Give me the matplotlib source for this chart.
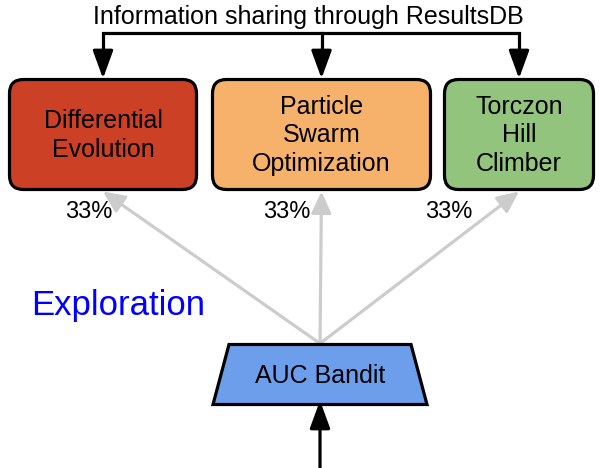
import matplotlib

matplotlib.use("Agg")

import matplotlib.pyplot as plt
from matplotlib.patches import FancyBboxPatch, FancyArrowPatch, Polygon

plt.rcParams["font.family"]=["Liberation Sans","DejaVu Sans"]

# technique boxes
labels=["Differential\nEvolution","Particle\nSwarm\nOptimization","Torczon\nHill\nClimber"]
colors=["#cc4125","#f6b26b","#93c47d"]
shares=["33%","33%","33%"]
box_left=[9.5,212.5,444.5]
box_right=[196.5,430.5,593.5]
share_x=[89,287,449]

title="Information sharing through ResultsDB"
bandit_label="AUC Bandit"
bandit_color="#6d9eeb"

fig=plt.figure(figsize=(6,4.68),dpi=100)
ax=fig.add_axes([0,0,1,1])
ax.set_xlim(0,600)
ax.set_ylim(468,0)
ax.axis("off")

top,bottom=79.5,189.5
centers=[(l+r)/2 for l,r in zip(box_left,box_right)]

for l,r,lab,c in zip(box_left,box_right,labels,colors):
    ax.add_patch(FancyBboxPatch(
        (l,top),r-l,bottom-top,
        boxstyle="round,pad=0,rounding_size=14",
        facecolor=c,edgecolor="black",linewidth=2.3,zorder=3
    ))
    ax.text((l+r)/2,(top+bottom)/2+1,lab,ha="center",va="center",
            fontsize=18,linespacing=1.22,zorder=4)

# ResultsDB line
ax.text(308,17,title,ha="center",va="center",fontsize=18)
ax.plot([centers[0],centers[0],centers[2],centers[2]],[55,33,33,55],
        color="black",lw=2.3,solid_joinstyle="miter",zorder=2)
ax.plot([centers[1],centers[1]],[33,55],color="black",lw=2.3)
for cx in centers:
    ax.add_patch(FancyArrowPatch(
        (cx,50),(cx,top-1),
        arrowstyle="-|>,head_length=1.7,head_width=0.62",
        mutation_scale=10,color="black",lw=2.3,shrinkA=0,shrinkB=0,zorder=3
    ))

# bandit
bandit_top,bandit_bot=344.5,404.5
ax.add_patch(Polygon(
    [(229,bandit_top),(411,bandit_top),(427,bandit_bot),(213,bandit_bot)],
    closed=True,facecolor=bandit_color,edgecolor="black",lw=2.3,zorder=3
))
ax.text(320,376,bandit_label,ha="center",va="center",fontsize=18,zorder=4)

for cx,sx,s in zip(centers,share_x,shares):
    ax.add_patch(FancyArrowPatch(
        (320,bandit_top-1),(cx,bottom+2),
        arrowstyle="-|>,head_length=1.3,head_width=0.6",
        mutation_scale=10,color="#cccccc",lw=2.3,shrinkA=0,shrinkB=0,zorder=2
    ))
    ax.text(sx,212,s,ha="center",va="center",fontsize=17)

ax.text(118,305,"Exploration",ha="center",va="center",fontsize=25,color="#0000ff")

ax.add_patch(FancyArrowPatch(
    (320,470),(320,bandit_bot-4),
    arrowstyle="-|>,head_length=1.7,head_width=0.62",
    mutation_scale=10,color="black",lw=2.3,shrinkA=0,shrinkB=0,zorder=4
))

fig.savefig("out.png",dpi=100)
